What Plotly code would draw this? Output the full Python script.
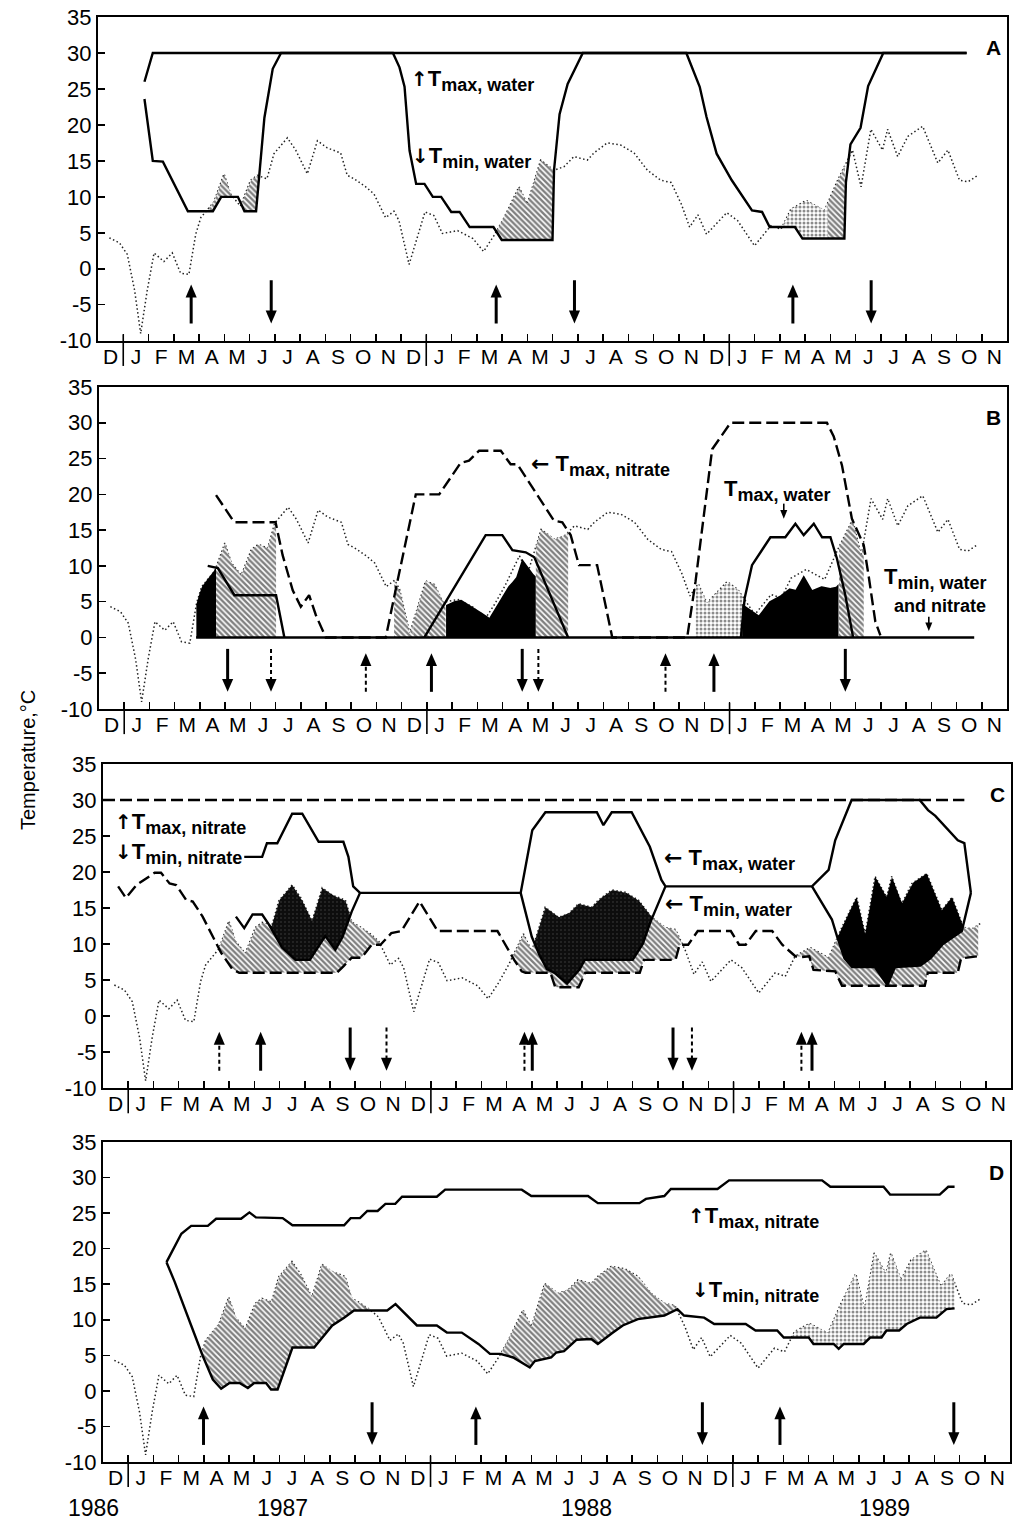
import numpy as np
import plotly.graph_objects as go

FONT = "Liberation Sans, Arial, Helvetica, sans-serif"
ARROW_FONT = "DejaVu Sans"
W, H = 1015, 1528

# ------------------------------------------------------------------
# DATA  (time = months after 1 December 1986, values in deg C)
# ------------------------------------------------------------------
month_letters = ["D", "J", "F", "M", "A", "M", "J", "J", "A", "S", "O", "N"] * 3
y_tick_values = [-10, -5, 0, 5, 10, 15, 20, 25, 30, 35]
y_tick_labels = ["-10", "-5", "0", "5", "10", "15", "20", "25", "30", "35"]
year_labels = ["1986", "1987", "1988", "1989"]
year_divisions = [1, 13, 25]
panel_letters = ["A", "B", "C", "D"]

# water temperature (dotted line, shared by all panels)
water_t = [0.45, 0.85, 1.16, 1.45, 1.69, 1.95, 2.22, 2.61, 2.94, 3.27, 3.6, 3.87, 4.07, 4.59,
           4.99, 5.25, 5.64, 6.04, 6.31, 6.69, 6.97, 7.5, 7.83, 8.29, 8.69, 9.08, 9.61, 9.87,
           10.14, 10.6, 10.93, 11.39, 11.72, 11.92, 12.32, 12.95, 13.3, 13.64, 14.24, 14.85,
           15.27, 15.68, 16.08, 16.67, 17.0, 17.53, 18.06, 18.46, 18.85, 19.38, 19.64, 20.17,
           20.7, 21.23, 21.76, 22.29, 22.7, 23.1, 23.43, 23.76, 24.1, 24.9, 25.33, 26.0, 26.65,
           27.05, 27.44, 28.04, 28.77, 29.29, 29.88, 30.22, 30.61, 31.07, 31.27, 31.67, 32.07,
           32.66, 33.26, 33.66, 34.12, 34.46, 34.85]
water_c = [4.3, 3.6, 2.0, -3.0, -9.0, -3.0, 2.2, 1.0, 2.2, -0.6, -0.8, 4.8, 7.1, 9.3,
           13.2, 10.4, 8.7, 12.3, 13.0, 12.5, 16.0, 18.2, 16.5, 13.2, 17.8, 16.8, 16.1, 13.0,
           12.5, 11.4, 10.4, 7.1, 8.0, 6.7, 0.6, 7.9, 7.4, 4.9, 5.3, 4.2,
           2.4, 4.6, 7.1, 11.4, 9.0, 15.1, 13.7, 14.2, 15.6, 15.1, 16.1, 17.5,
           17.2, 16.1, 13.7, 12.3, 12.0, 9.0, 5.8, 7.5, 4.8, 7.8, 6.7, 3.2, 6.0,
           5.5, 8.3, 9.5, 8.1, 12.3, 16.5, 11.4, 19.4, 16.5, 19.4, 15.6, 18.4,
           19.8, 14.7, 16.5, 12.3, 12.1, 13.0]

# Panel A
a_tmax_t = [1.84, 2.17, 34.4]
a_tmax_c = [26.0, 30.0, 30.0]
a_tmin_t = [1.84, 2.17, 2.57, 3.56, 4.55, 4.88, 5.54, 5.8, 6.26, 6.59, 6.92, 7.25, 11.68, 11.94,
            12.14, 12.34, 12.6, 12.93, 13.26, 13.59, 13.99, 14.32, 14.72, 15.66, 15.99, 18.0,
            18.06, 18.28, 18.6, 19.2, 23.3, 23.83, 24.1, 24.5, 25.1, 25.9, 26.3, 26.6, 27.6,
            27.9, 29.56, 29.62, 29.8, 30.2, 30.5, 31.1, 34.4]
a_tmin_c = [23.6, 15.0, 14.9, 8.0, 8.0, 10.0, 10.0, 8.0, 8.0, 21.0, 27.8, 30.0, 30.0, 28.0,
            25.3, 16.4, 11.8, 11.8, 10.0, 10.0, 7.9, 7.9, 5.8, 5.8, 4.0, 4.0,
            13.7, 21.5, 25.7, 30.0, 30.0, 25.3, 21.1, 16.0, 12.3, 8.1, 7.9, 5.8, 5.8,
            4.2, 4.2, 12.0, 17.3, 19.6, 25.4, 30.0, 30.0]
a_fill_windows = [(4.4, 6.4, "hatch"), (15.3, 18.02, "hatch"),
                  (27.0, 28.9, "stipple"), (28.9, 29.58, "hatch")]

# Panel B
b_tmaxn_t = [4.64, 5.36, 7.0, 7.28, 7.68, 8.0, 8.33, 8.6, 8.99, 11.37, 11.83, 12.56, 13.49,
             14.34, 14.67, 15.07, 15.93, 16.32, 16.59, 18.04, 18.37, 18.7, 19.03, 19.75, 20.35,
             23.32, 23.65, 24.31, 25.04, 28.86, 29.13, 29.46, 29.85, 30.32, 30.51, 30.78, 30.98]
b_tmaxn_c = [19.9, 16.1, 16.1, 11.5, 6.6, 4.3, 5.9, 3.1, 0.0, 0.0, 7.8, 20.0, 20.0,
             24.4, 24.7, 26.1, 26.1, 24.2, 24.2, 16.3, 16.1, 14.3, 10.1, 10.1, 0.0,
             0.0, 7.8, 26.3, 30.0, 30.0, 28.1, 24.0, 16.6, 12.9, 8.7, 2.2, 0.3]
b_tmaxw_1_t = [4.31, 4.71, 5.37, 7.02, 7.35]
b_tmaxw_1_c = [10.0, 9.7, 5.9, 5.9, 0.0]
b_tmaxw_2_t = [12.9, 15.33, 15.99, 16.39, 16.92, 17.26, 18.6]
b_tmaxw_2_c = [0.0, 14.3, 14.3, 12.2, 11.9, 11.2, 0.0]
b_tmaxw_3_t = [25.45, 25.6, 25.89, 26.62, 27.21, 27.61, 27.94, 28.34, 28.67, 29.0, 29.26, 29.59, 29.9]
b_tmaxw_3_c = [0.0, 5.5, 10.1, 14.0, 14.0, 15.9, 14.3, 15.9, 14.0, 14.0, 11.0, 5.9, 0.0]
b_tmin_t = [3.85, 34.7]
b_tmin_c = [0.0, 0.0]
b_black88_t = [13.75, 14.0, 14.34, 14.94, 15.47, 15.99, 16.26, 16.52, 16.78, 17.12, 17.32]
b_black88_c = [4.5, 5.0, 5.3, 4.1, 2.7, 5.9, 7.3, 8.2, 11.0, 9.2, 8.5]
b_black89_t = [25.5, 25.8, 26.16, 26.55, 26.95, 27.35, 27.61, 27.94, 28.27, 28.6, 28.93, 29.2, 29.33]
b_black89_c = [4.7, 4.0, 3.1, 5.0, 5.7, 6.9, 6.6, 8.7, 6.6, 7.2, 6.9, 7.0, 7.5]
b_fill_windows = [(3.85, 4.64, "water", "black"), (4.64, 7.02, "water", "hatch"),
                  (11.7, 12.45, "water", "hatch"), (12.45, 13.75, "water", "hatch"),
                  (13.75, 17.32, "black88", "black"), (17.32, 18.6, "water", "hatch"),
                  (23.65, 25.5, "water", "stipple"), (25.5, 29.33, "black89", "black"),
                  (29.33, 30.32, "water", "hatch")]

# Panel C
c_tmaxn_t = [0.0, 34.15]
c_tmaxn_c = [30.0, 30.0]
c_tminn_t = [0.6, 0.91, 1.33, 2.05, 2.3, 2.64, 2.9, 3.3, 3.56, 3.95, 4.68, 5.13, 5.4, 9.27,
             9.53, 9.86, 10.25, 10.65, 11.0, 11.43, 11.83, 12.55, 13.27, 15.64, 16.3, 16.6,
             16.75, 17.74, 17.93, 18.86, 19.12, 21.28, 21.45, 22.7, 22.86, 23.2, 23.58, 24.89,
             25.22, 25.48, 25.88, 26.53, 26.93, 27.45, 27.71, 28.0, 28.17, 29.03, 29.3, 32.58,
             32.7, 33.89, 34.02, 34.7]
c_tminn_c = [18.0, 16.4, 18.2, 19.9, 19.9, 18.4, 18.2, 16.1, 15.9, 13.8, 8.8, 6.5, 6.0, 6.0,
             6.9, 8.1, 8.1, 9.9, 9.9, 11.5, 11.8, 15.9, 11.8, 11.8, 7.8, 6.2,
             6.0, 6.0, 4.0, 4.0, 6.0, 6.0, 7.8, 7.8, 9.9, 9.9, 11.8, 11.8,
             9.9, 9.9, 11.8, 11.8, 9.9, 8.3, 8.2, 8.3, 6.4, 6.2, 4.2, 4.2,
             6.0, 6.0, 8.0, 8.3]
c_tmaxw_t = [5.6, 6.31, 6.5, 6.91, 7.5, 7.9, 8.55, 9.53, 9.73, 9.92, 10.19, 16.56, 17.02, 17.54,
             19.58, 19.84, 20.17, 20.96, 21.68, 22.14, 22.3, 28.11, 28.77, 29.03, 29.68, 32.38,
             32.71, 33.0, 33.89, 34.15, 34.41]
c_tmaxw_c = [22.1, 22.1, 24.0, 24.0, 28.1, 28.1, 24.2, 24.2, 22.1, 18.0, 17.1, 17.1, 25.8, 28.3,
             28.3, 26.5, 28.3, 28.3, 23.5, 18.9, 18.0, 18.0, 20.3, 24.4, 30.0, 30.0,
             28.6, 27.8, 24.4, 24.0, 17.1]
c_tminw_1_t = [5.27, 5.6, 5.93, 6.31, 6.58, 7.1, 7.63, 8.2, 8.81, 9.21, 9.5, 9.86, 10.19]
c_tminw_1_c = [13.8, 12.2, 14.1, 14.1, 12.7, 9.5, 7.8, 7.8, 11.1, 9.2, 11.0, 14.5, 17.1]
c_tminw_2_t = [16.56, 17.0, 17.3, 17.6, 17.9, 18.4, 18.9, 19.1, 21.0, 21.4, 21.7, 22.14, 22.3]
c_tminw_2_c = [17.1, 11.0, 8.5, 6.5, 6.0, 4.5, 6.5, 7.8, 7.8, 10.0, 13.0, 16.5, 18.0]
c_tminw_3_t = [28.11, 28.9, 29.1, 29.4, 29.7, 30.6, 31.1, 31.4, 32.4, 32.8, 33.3, 33.9, 34.05, 34.41]
c_tminw_3_c = [18.0, 13.4, 11.1, 8.0, 6.8, 6.8, 4.3, 6.8, 7.0, 8.0, 10.0, 11.5, 11.8, 17.1]
c_hatch_windows = [(4.5, 11.2), (15.6, 22.95), (27.3, 34.75)]
c_black_windows = [(5.27, 10.19, "darkstip"), (16.56, 22.3, "darkstip"), (28.11, 34.41, "black")]

# Panel D
d_tmaxn_t = [2.52, 3.11, 3.5, 4.16, 4.49, 5.48, 5.81, 6.07, 7.13, 7.52, 9.57, 9.83, 10.2, 10.49,
             10.9, 11.21, 11.6, 11.87, 13.25, 13.58, 16.62, 17.0, 19.25, 19.64, 21.29, 21.55,
             22.28, 22.54, 24.39, 24.85, 28.54, 28.87, 30.98, 31.24, 33.21, 33.55, 33.8]
d_tmaxn_c = [18.1, 22.1, 23.2, 23.2, 24.2, 24.2, 25.1, 24.4, 24.3, 23.3, 23.3, 24.3, 24.3, 25.3,
             25.3, 26.3, 26.3, 27.3, 27.3, 28.3, 28.3, 27.4, 27.4, 26.4, 26.4, 27.0,
             27.4, 28.4, 28.4, 29.6, 29.6, 28.7, 28.7, 27.6, 27.6, 28.7, 28.7]
d_tminn_t = [2.52, 2.85, 3.5, 3.96, 4.36, 4.69, 5.02, 5.42, 5.75, 6.0, 6.47, 6.67, 6.93, 7.52,
             8.38, 8.71, 9.1, 9.57, 9.96, 11.28, 11.61, 12.46, 13.25, 13.65, 14.24, 14.9, 15.36,
             15.76, 16.28, 16.94, 17.14, 17.79, 17.99, 18.3, 18.8, 19.38, 19.64, 20.24, 20.63,
             21.23, 22.28, 22.8, 23.06, 23.86, 24.26, 25.51, 25.9, 26.76, 27.02, 28.01, 28.2,
             29.0, 29.2, 29.4, 30.19, 30.45, 30.9, 31.1, 31.6, 31.9, 32.42, 33.08, 33.48, 33.8]
d_tminn_c = [18.1, 15.3, 9.2, 4.9, 1.6, 0.3, 1.1, 1.1, 0.4, 1.1, 1.1, 0.2, 0.2, 6.1,
             6.1, 7.5, 9.2, 10.3, 11.3, 11.3, 12.2, 9.2, 9.2, 8.2, 8.2, 6.6, 5.2,
             5.2, 4.7, 3.3, 4.2, 4.7, 5.4, 5.6, 7.2, 7.3, 6.6, 8.2, 9.2,
             10.1, 10.6, 11.5, 10.6, 10.3, 9.4, 9.4, 8.5, 8.5, 7.5, 7.5, 6.6,
             6.6, 5.9, 6.6, 6.6, 7.5, 7.5, 8.5, 8.5, 9.4, 10.3, 10.3, 11.5, 11.6]
d_fill_windows = [(3.8, 10.7, "hatch"), (15.3, 22.95, "hatch"), (26.9, 33.8, "stipple")]

# arrows (event times, direction, shaft style)
arrows_t = {
    1: [3.69, 6.86, 15.77, 18.87, 27.52, 30.62],
    2: [5.1, 6.82, 10.58, 13.18, 16.78, 17.42, 22.46, 24.38, 29.59],
    3: [4.61, 6.25, 9.8, 11.24, 16.71, 17.02, 22.6, 23.35, 27.69, 28.11],
    4: [3.99, 10.68, 14.8, 23.79, 26.87, 33.77],
}
arrows_dir = {
    1: ["up", "down", "up", "down", "up", "down"],
    2: ["down", "down", "up", "up", "down", "down", "up", "up", "down"],
    3: ["up", "up", "down", "down", "up", "up", "down", "down", "up", "up"],
    4: ["up", "down", "up", "down", "up", "down"],
}
arrows_style = {
    1: ["solid"] * 6,
    2: ["solid", "dash", "dash", "solid", "solid", "dash", "dash", "solid", "solid"],
    3: ["dash", "solid", "solid", "dash", "dash", "solid", "solid", "dash", "dash", "solid"],
    4: ["solid"] * 6,
}

for k in arrows_t:
    assert len(arrows_t[k]) == len(arrows_dir[k]) == len(arrows_style[k])
for t, c in [(water_t, water_c), (a_tmin_t, a_tmin_c), (b_tmaxn_t, b_tmaxn_c), (c_tminn_t, c_tminn_c),
             (c_tmaxw_t, c_tmaxw_c), (d_tmaxn_t, d_tmaxn_c), (d_tminn_t, d_tminn_c)]:
    assert len(t) == len(c)

# ------------------------------------------------------------------
# LAYOUT CONSTANTS (window pixels: left, right, top, bottom of each plot box)
# ------------------------------------------------------------------
PANEL_PX = {1: (98, 1007, 17, 340.7), 2: (99, 1007, 387, 709),
            3: (103, 1011, 764, 1088), 4: (103, 1010, 1142, 1462)}

def fx(px):
    return min(1.0, max(0.0, px / W))

def fy(py):
    return min(1.0, max(0.0, 1 - py / H))

def ax_names(i):
    s = "" if i == 1 else str(i)
    return "x" + s, "y" + s

grid = np.round(np.arange(0.0, 36.0 + 1e-9, 0.02), 3)

def curve(t, c):
    return np.interp(grid, np.asarray(t, float), np.asarray(c, float), left=np.nan, right=np.nan)

def segs(pairs):
    out = np.full(grid.shape, np.nan)
    for t, c in pairs:
        v = curve(t, c)
        ok = np.isfinite(v)
        out[ok] = v[ok]
    return out

FILL_STYLES = {
    "hatch": dict(fillcolor="white",
                  fillpattern=dict(shape="\\", fgcolor="black", bgcolor="white", size=4, solidity=0.6)),
    "stipple": dict(fillcolor="white",
                    fillpattern=dict(shape=".", fgcolor="#1a1a1a", bgcolor="white", size=4, solidity=0.45)),
    "black": dict(fillcolor="black"),
    "darkstip": dict(fillcolor="#111111",
                     fillpattern=dict(shape=".", fgcolor="#7a7a7a", bgcolor="#0d0d0d", size=4, solidity=0.1)),
}

LINE_STYLES = {
    "solid": dict(color="black", width=2.4),
    "dash": dict(color="black", width=2.4, dash="12px,5px"),
    "dot": dict(color="#222222", width=1.5, dash="1.5px,2.5px"),
}

fig = go.Figure()

def band(i, lower, upper, t0, t1, style):
    xa, ya = ax_names(i)
    m = (grid >= t0) & (grid <= t1) & np.isfinite(lower) & np.isfinite(upper)
    xs = grid[m]
    lo = lower[m]
    hi = np.maximum(upper[m], lo)
    fig.add_trace(go.Scatter(
        x=np.concatenate([xs, xs[::-1]]), y=np.concatenate([hi, lo[::-1]]),
        xaxis=xa, yaxis=ya, mode="lines", line=dict(width=0, color="rgba(0,0,0,0)"),
        fill="toself", hoverinfo="skip", showlegend=False, **FILL_STYLES[style]))

def line(i, t, c, kind):
    xa, ya = ax_names(i)
    fig.add_trace(go.Scatter(x=t, y=c, xaxis=xa, yaxis=ya, mode="lines",
                             line=LINE_STYLES[kind], hoverinfo="skip", showlegend=False))

water_g = curve(water_t, water_c)

# dotted water temperature first in every panel
for i in (1, 2, 3, 4):
    line(i, water_t, water_c, "dot")

# ---- Panel A ----
a_tmin_g = curve(a_tmin_t, a_tmin_c)
for t0, t1, st in a_fill_windows:
    band(1, a_tmin_g, water_g, t0, t1, st)
line(1, a_tmax_t, a_tmax_c, "solid")
line(1, a_tmin_t, a_tmin_c, "solid")

# ---- Panel B ----
b_zero_g = curve(b_tmin_t, b_tmin_c)
b_tops = {"water": water_g, "black88": curve(b_black88_t, b_black88_c),
          "black89": curve(b_black89_t, b_black89_c)}
for t0, t1, top, st in b_fill_windows:
    band(2, b_zero_g, b_tops[top], t0, t1, st)
line(2, b_tmaxn_t, b_tmaxn_c, "dash")
line(2, b_tmaxw_1_t, b_tmaxw_1_c, "solid")
line(2, b_tmaxw_2_t, b_tmaxw_2_c, "solid")
line(2, b_tmaxw_3_t, b_tmaxw_3_c, "solid")
line(2, b_tmin_t, b_tmin_c, "solid")

# ---- Panel C ----
c_tminn_g = curve(c_tminn_t, c_tminn_c)
c_tmaxw_g = curve(c_tmaxw_t, c_tmaxw_c)
c_tminw_g = segs([(c_tminw_1_t, c_tminw_1_c), (c_tminw_2_t, c_tminw_2_c), (c_tminw_3_t, c_tminw_3_c)])
c_hatch_top = np.fmin(water_g, c_tminw_g)
for t0, t1 in c_hatch_windows:
    band(3, c_tminn_g, c_hatch_top, t0, t1, "hatch")
c_black_top = np.fmin(water_g, c_tmaxw_g)
for t0, t1, st in c_black_windows:
    band(3, c_tminw_g, c_black_top, t0, t1, st)
line(3, c_tmaxn_t, c_tmaxn_c, "dash")
line(3, c_tminn_t, c_tminn_c, "dash")
line(3, c_tmaxw_t, c_tmaxw_c, "solid")
line(3, c_tminw_1_t, c_tminw_1_c, "solid")
line(3, c_tminw_2_t, c_tminw_2_c, "solid")
line(3, c_tminw_3_t, c_tminw_3_c, "solid")

# ---- Panel D ----
d_tminn_g = curve(d_tminn_t, d_tminn_c)
for t0, t1, st in d_fill_windows:
    band(4, d_tminn_g, water_g, t0, t1, st)
line(4, d_tmaxn_t, d_tmaxn_c, "solid")
line(4, d_tminn_t, d_tminn_c, "solid")

# ------------------------------------------------------------------
# AXES
# ------------------------------------------------------------------
layout = dict(width=W, height=H, margin=dict(l=0, r=0, t=0, b=0),
              paper_bgcolor="white", plot_bgcolor="white", showlegend=False,
              font=dict(family=FONT, color="black"))
for i, (l, r, t, b) in PANEL_PX.items():
    xa, ya = ax_names(i)
    xkey = "xaxis" + ("" if i == 1 else str(i))
    ykey = "yaxis" + ("" if i == 1 else str(i))
    layout[xkey] = dict(domain=[fx(l), fx(r)], range=[0, 36], anchor=ya,
                        tickmode="array", tickvals=[k + 0.5 for k in range(36)], ticktext=month_letters,
                        ticks="", ticklabelstandoff=-4, ticklabeloverflow="allow",
                        minor=dict(tickmode="array", tickvals=list(range(1, 36)), ticks="inside",
                                   ticklen=7, tickwidth=1.5, tickcolor="black", showgrid=False),
                        showline=True, mirror=True, linecolor="black", linewidth=2,
                        showgrid=False, zeroline=False, automargin=False, fixedrange=True,
                        tickfont=dict(family=FONT, size=21, color="black"))
    layout[ykey] = dict(domain=[fy(b), fy(t)], range=[-10, 35], anchor=xa,
                        tickmode="array", tickvals=y_tick_values, ticktext=y_tick_labels,
                        ticks="inside", ticklen=7, tickwidth=1.5, tickcolor="black",
                        ticklabeloverflow="allow",
                        showline=True, mirror=True, linecolor="black", linewidth=2,
                        showgrid=False, zeroline=False, automargin=False, fixedrange=True,
                        tickfont=dict(family=FONT, size=22, color="black"))

shapes = []
annotations = []

# year division lines through the month labels
for i in PANEL_PX:
    xa, ya = ax_names(i)
    for t in year_divisions:
        shapes.append(dict(type="line", xref=xa, yref=ya + " domain", x0=t, x1=t, y0=-0.078, y1=0.02,
                           line=dict(color="black", width=1.6)))

def arrow_shape(xa, ya, t, tail, head, dashed, half_w=0.22, head_len=1.8, width=3.0):
    sgn = 1 if head > tail else -1
    base = head - sgn * head_len
    shapes.append(dict(type="line", xref=xa, yref=ya, x0=t, x1=t, y0=tail, y1=base + sgn * 0.2,
                       line=dict(color="black", width=2.0 if dashed else width,
                                 dash="4px,3px" if dashed else "solid")))
    shapes.append(dict(type="path", xref=xa, yref=ya,
                       path=f"M {t - half_w},{base} L {t + half_w},{base} L {t},{head} Z",
                       fillcolor="black", line=dict(width=0)))

# event arrows
UP_TAIL, UP_HEAD, DN_TAIL, DN_HEAD = -7.6, -2.2, -1.6, -7.6
for i in PANEL_PX:
    xa, ya = ax_names(i)
    for t, d, st in zip(arrows_t[i], arrows_dir[i], arrows_style[i]):
        tail, head = (UP_TAIL, UP_HEAD) if d == "up" else (DN_TAIL, DN_HEAD)
        arrow_shape(xa, ya, t, tail, head, st == "dash")

# small pointer arrows in panel B
for t, v0, v1 in [(27.15, 18.7, 16.6), (32.9, 2.9, 0.9)]:
    arrow_shape("x2", "y2", t, v0, v1, False, half_w=0.14, head_len=1.2, width=1.6)

# curve labels
def lab(arrow, sub):
    sym = {"up": "↑", "down": "↓", "left": "←", "": ""}[arrow]
    size = 20 if arrow in ("up", "down") else 22
    a = (f"<span style='font-family:{ARROW_FONT};font-size:{size}px'>{sym}</span>"
         + (" " if arrow == "left" else "")) if sym else ""
    return "<b>" + a + "T<sub><span style='font-size:18px'>" + sub + "</span></sub></b>"

labels = [
    (1, 12.3, 26.2, lab("up", "max, water")),
    (1, 12.35, 15.5, lab("down", "min, water")),
    (2, 17.05, 24.0, lab("left", "max, nitrate")),
    (2, 24.7, 20.6, lab("", "max, water")),
    (2, 31.05, 8.3, lab("", "min, water")),
    (2, 31.45, 4.4, "<b><span style='font-size:18px'>and nitrate</span></b>"),
    (3, 0.4, 26.8, lab("up", "max, nitrate")),
    (3, 0.4, 22.6, lab("down", "min, nitrate")),
    (3, 22.15, 21.7, lab("left", "max, water")),
    (3, 22.2, 15.4, lab("left", "min, water")),
    (4, 23.15, 24.4, lab("up", "max, nitrate")),
    (4, 23.3, 14.0, lab("down", "min, nitrate")),
]
for i, t, v, txt in labels:
    xa, ya = ax_names(i)
    annotations.append(dict(x=t, y=v, xref=xa, yref=ya, text=txt, showarrow=False,
                            xanchor="left", yanchor="middle", font=dict(family=FONT, size=22, color="black")))

# panel letters
for i, letter in zip(PANEL_PX, panel_letters):
    xa, ya = ax_names(i)
    annotations.append(dict(x=0.985, y=0.905, xref=xa + " domain", yref=ya + " domain", text="<b>" + letter + "</b>",
                            showarrow=False, xanchor="center", yanchor="middle",
                            font=dict(family=FONT, size=21, color="black")))

# year labels under the bottom panel
for px, yl in zip([93, 282, 586, 884], year_labels):
    annotations.append(dict(x=fx(px), y=fy(1508), xref="paper", yref="paper", text=yl, showarrow=False,
                            xanchor="center", yanchor="middle", font=dict(family=FONT, size=23, color="black")))

# y-axis title
annotations.append(dict(x=fx(28), y=fy(760), xref="paper", yref="paper", text="Temperature,°C",
                        textangle=-90, showarrow=False, xanchor="center", yanchor="middle",
                        font=dict(family=FONT, size=20, color="black")))

layout["shapes"] = shapes
layout["annotations"] = annotations
fig.update_layout(**layout)
# remove the default 8px page margin so the 1015x1528 figure fills the window exactly
fig.write_html("out.html", config={"displayModeBar": False, "staticPlot": True},
               post_script="document.body.style.margin='0px';document.body.style.overflow='hidden';")
